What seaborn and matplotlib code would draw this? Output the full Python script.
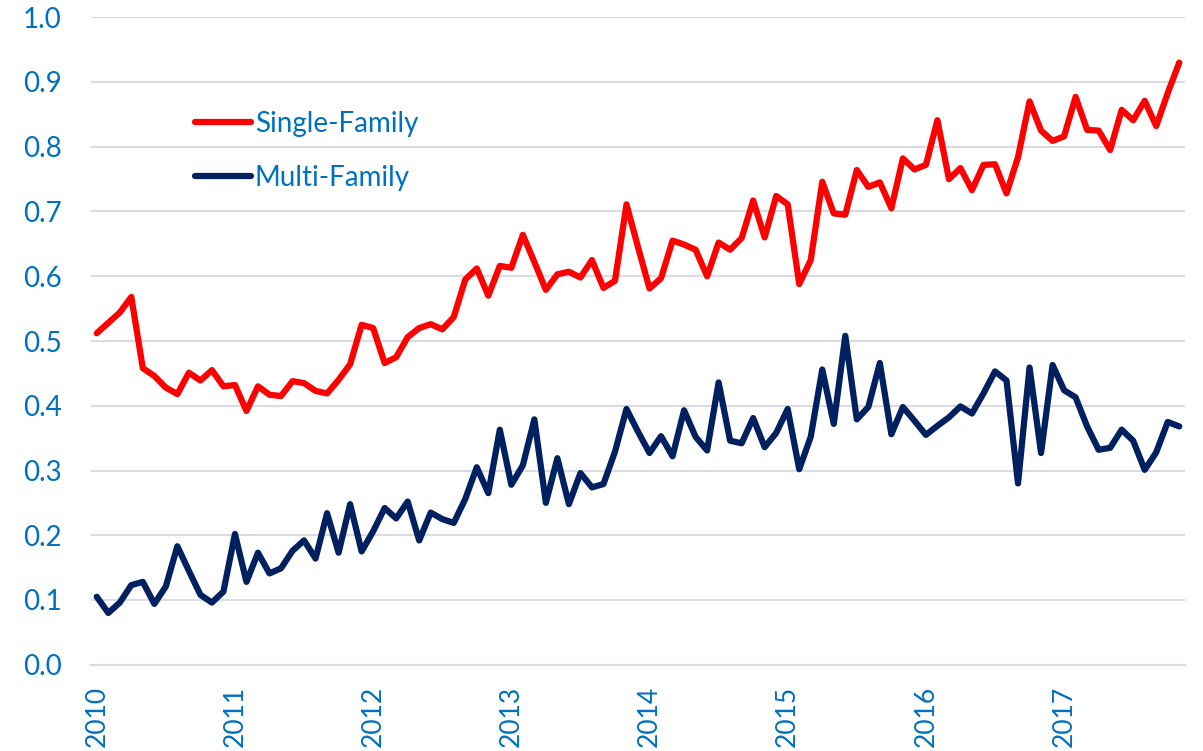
import pandas as pd
import numpy as np
import matplotlib
matplotlib.use("Agg")
import matplotlib.pyplot as plt
import seaborn as sns
from matplotlib.lines import Line2D

# Monthly values, Jan 2010 - Nov 2017
single_family = [
    0.512, 0.528, 0.544, 0.568, 0.458, 0.446, 0.428, 0.418, 0.451, 0.439, 0.455, 0.430,
    0.432, 0.392, 0.430, 0.417, 0.415, 0.438, 0.435, 0.423, 0.419, 0.440, 0.464, 0.525,
    0.520, 0.466, 0.475, 0.506, 0.520, 0.526, 0.518, 0.537, 0.595, 0.612, 0.570, 0.616,
    0.613, 0.664, 0.622, 0.579, 0.603, 0.607, 0.598, 0.625, 0.582, 0.593, 0.711, 0.645,
    0.581, 0.597, 0.655, 0.649, 0.641, 0.600, 0.652, 0.641, 0.659, 0.717, 0.660, 0.724,
    0.711, 0.588, 0.625, 0.746, 0.697, 0.695, 0.764, 0.738, 0.745, 0.705, 0.782, 0.765,
    0.772, 0.841, 0.750, 0.767, 0.733, 0.772, 0.773, 0.728, 0.784, 0.870, 0.825, 0.809,
    0.816, 0.877, 0.826, 0.825, 0.795, 0.857, 0.841, 0.871, 0.832, 0.883, 0.930,
]
multi_family = [
    0.105, 0.080, 0.096, 0.123, 0.128, 0.094, 0.121, 0.183, 0.145, 0.108, 0.096, 0.113,
    0.202, 0.128, 0.173, 0.141, 0.149, 0.176, 0.192, 0.164, 0.234, 0.173, 0.248, 0.175,
    0.206, 0.242, 0.226, 0.252, 0.192, 0.235, 0.225, 0.219, 0.256, 0.305, 0.265, 0.363,
    0.278, 0.308, 0.379, 0.250, 0.319, 0.248, 0.296, 0.274, 0.279, 0.329, 0.395, 0.360,
    0.327, 0.353, 0.322, 0.393, 0.352, 0.331, 0.436, 0.346, 0.342, 0.381, 0.336, 0.358,
    0.395, 0.302, 0.352, 0.456, 0.372, 0.508, 0.379, 0.398, 0.466, 0.356, 0.398, 0.377,
    0.355, 0.369, 0.382, 0.399, 0.388, 0.419, 0.453, 0.439, 0.280, 0.459, 0.327, 0.463,
    0.424, 0.413, 0.368, 0.332, 0.335, 0.363, 0.346, 0.301, 0.328, 0.375, 0.368,
]
years = ["2010", "2011", "2012", "2013", "2014", "2015", "2016", "2017"]

months = np.arange(len(single_family))
df = pd.DataFrame({
    "month": np.concatenate([months, months]),
    "value": single_family + multi_family,
    "series": ["Single-Family"] * len(months) + ["Multi-Family"] * len(months),
})

sns.set_style("white")
plt.rcParams["font.family"] = ["Lato", "DejaVu Sans"]

blue_text = "#0070C0"
grid_col = "#D9DDE3"
lw = 4.5

fig = plt.figure(figsize=(12.03, 7.51), dpi=100)
ax = fig.add_axes([91 / 1203, 1 - 664.75 / 751, (1185 - 91) / 1203, (664.75 - 17.25) / 751])

sns.lineplot(data=df, x="month", y="value", hue="series",
             palette={"Single-Family": "#FF0000", "Multi-Family": "#002060"},
             linewidth=lw, ax=ax, legend=False, zorder=3)

ax.set_xlim(-0.5, len(months) - 0.5)
ax.set_ylim(0, 1.0)
ax.set_yticks(np.arange(0, 1.01, 0.1))
ax.set_yticklabels([f"{v:.1f}" for v in np.arange(0, 1.01, 0.1)])
ax.set_xticks(np.arange(0, len(months), 12))
ax.set_xticklabels(years, rotation=90)
ax.set_xticks(np.arange(-0.5, len(months), 1), minor=True)

ax.grid(axis="y", color=grid_col, linewidth=1.5)
ax.set_axisbelow(True)
for s in ["top", "right", "left"]:
    ax.spines[s].set_visible(False)
ax.spines["bottom"].set_color(grid_col)
ax.spines["bottom"].set_linewidth(1.5)

ax.tick_params(axis="y", length=0, pad=21, labelsize=20, labelcolor=blue_text)
ax.tick_params(axis="x", which="major", length=0, pad=15, labelsize=19, labelcolor=blue_text)
ax.tick_params(axis="x", which="minor", length=7, width=1, color=grid_col)
ax.set_xlabel("")
ax.set_ylabel("")

handles = [Line2D([], [], color="#FF0000", lw=lw, solid_capstyle="round"),
           Line2D([], [], color="#002060", lw=lw, solid_capstyle="round")]
fig.legend(handles, ["Single-Family", "Multi-Family"], loc="upper left",
           bbox_to_anchor=(195 / 1203, 1 - 111 / 751), frameon=False,
           fontsize=20, labelcolor=blue_text, handlelength=2.0,
           handletextpad=0.15, labelspacing=1.0, borderpad=0, borderaxespad=0)

fig.savefig("out.png", dpi=100)
